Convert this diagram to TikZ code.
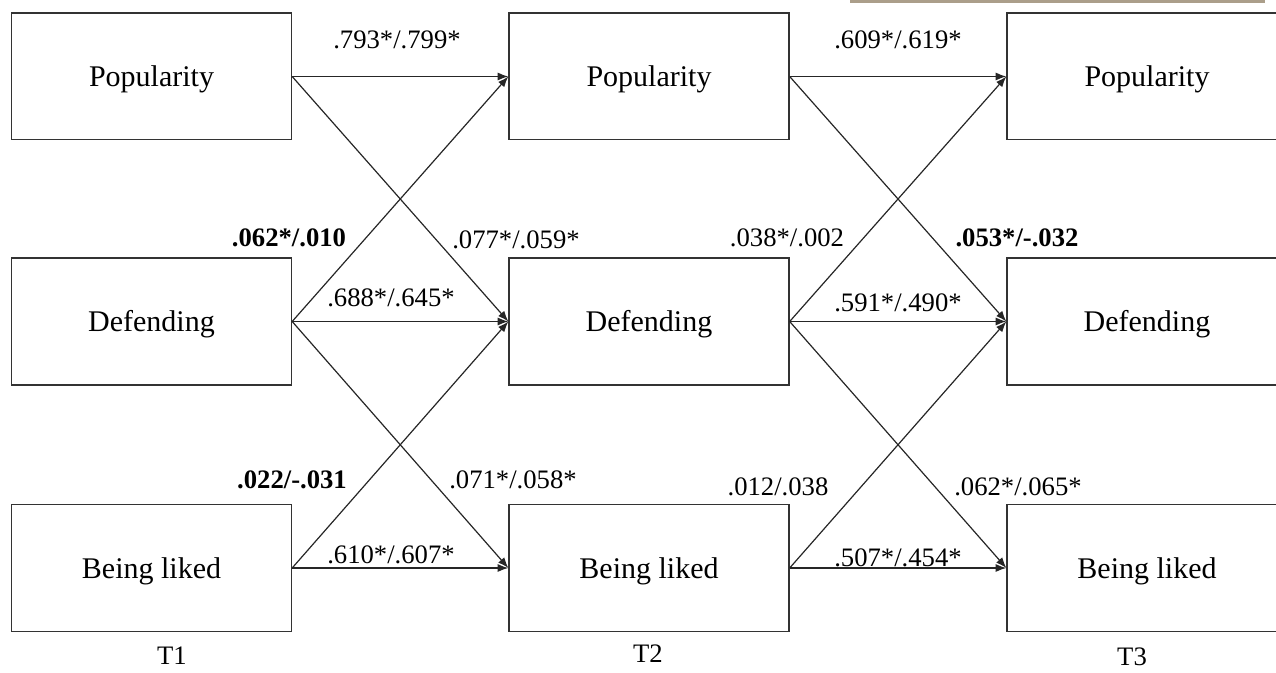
\documentclass[tikz,border=0pt]{standalone}
\usepackage{fontspec}
\setmainfont{Liberation Serif}
\usetikzlibrary{arrows.meta}
\definecolor{tanbar}{HTML}{AB9E8A}
\begin{document}
\begin{tikzpicture}[x=0.75pt,y=-0.75pt,
  varbox/.style={draw=black!80,line width=1pt,minimum width=210pt,minimum height=95pt,inner sep=0pt,text height=15pt,text depth=0pt,font=\fontsize{22.5}{26}\selectfont},
  path/.style={draw=black!85,line width=0.9pt,-{Latex[length=8pt,width=6pt]}},
  coef/.style={inner sep=0pt,font=\fontsize{20}{24}\selectfont},
  bcoef/.style={coef,font=\fontsize{20}{24}\selectfont\bfseries},
  tlabel/.style={inner sep=0pt,font=\fontsize{20}{24}\selectfont}]
\useasboundingbox (0,0) rectangle (1276,673);
\clip (0,0) rectangle (1276,673);
\fill[tanbar] (850,0) rectangle (1265,3);
% boxes
\node[varbox] (p1) at (151.5,76.5) {Popularity};
\node[varbox] (d1) at (151.5,321.5) {Defending};
\node[varbox] (l1) at (151.5,568) {Being liked};
\node[varbox] (p2) at (649,76.5) {Popularity};
\node[varbox] (d2) at (649,321.5) {Defending};
\node[varbox] (l2) at (649,568) {Being liked};
\node[varbox] (p3) at (1147,76.5) {Popularity};
\node[varbox] (d3) at (1147,321.5) {Defending};
\node[varbox] (l3) at (1147,568) {Being liked};
% paths T1 -> T2
\draw[path] (p1.east) -- (p2.west);
\draw[path] (p1.east) -- (d2.west);
\draw[path] (d1.east) -- (p2.west);
\draw[path] (d1.east) -- (d2.west);
\draw[path] (d1.east) -- (l2.west);
\draw[path] (l1.east) -- (d2.west);
\draw[path] (l1.east) -- (l2.west);
% paths T2 -> T3
\draw[path] (p2.east) -- (p3.west);
\draw[path] (p2.east) -- (d3.west);
\draw[path] (d2.east) -- (p3.west);
\draw[path] (d2.east) -- (d3.west);
\draw[path] (d2.east) -- (l3.west);
\draw[path] (l2.east) -- (d3.west);
\draw[path] (l2.east) -- (l3.west);
% coefficients
\node[coef] (c1) at (397,40) {.793*/.799*};
\node[coef] (c2) at (898,40) {.609*/.619*};
\node[coef] (c3) at (516,240) {.077*/.059*};
\node[bcoef] (c4) at (289,238) {.062*/.010};
\node[coef] (c5) at (391,298) {.688*/.645*};
\node[coef] (c6) at (787,238) {.038*/.002};
\node[bcoef] (c7) at (1017,238) {.053*/-.032};
\node[coef] (c8) at (898,303) {.591*/.490*};
\node[bcoef] (c9) at (292,480) {.022/-.031};
\node[coef] (c10) at (513,480) {.071*/.058*};
\node[coef] (c11) at (391,555) {.610*/.607*};
\node[coef] (c12) at (778,487) {.012/.038};
\node[coef] (c13) at (1018,487) {.062*/.065*};
\node[coef] (c14) at (898,558) {.507*/.454*};
% time labels
\node[tlabel] (t1) at (172,656) {T1};
\node[tlabel] (t2) at (648,654) {T2};
\node[tlabel] (t3) at (1132,657) {T3};
\end{tikzpicture}
\end{document}
